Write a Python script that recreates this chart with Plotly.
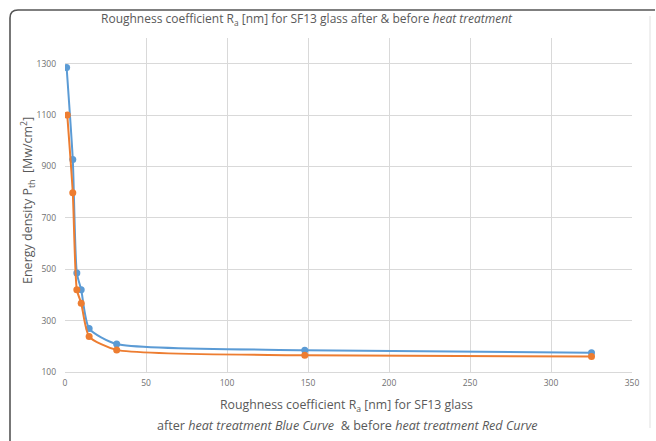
import plotly.graph_objects as go

# Roughness coefficient Ra [nm] (x) and threshold energy density Pth [Mw/cm2] (y)
ra_after = [1, 4.8, 7.3, 10, 14.9, 31.9, 148, 325]
pth_after = [1285, 927, 485, 420, 269, 209, 185, 175]

ra_before = [1.4, 4.8, 7.3, 10, 14.9, 31.9, 148, 325]
pth_before = [1100, 798, 420, 368, 238, 186, 165, 160]

x_ticks = [0, 50, 100, 150, 200, 250, 300, 350]
y_ticks = [100, 300, 500, 700, 900, 1100, 1300]

BLUE = "#5B9BD5"
ORANGE = "#ED7D31"
FONT = "Open Sans"
GRID = "#D9D9D9"
TXT = "#595959"
TICK = "#707070"

W, H = 656, 441
L, R, T, B = 65, 24, 38, 69
pw, ph = W - L - R, H - T - B


def px(xp):
    return (xp - L) / pw


def py(yp):
    return (H - B - yp) / ph


fig = go.Figure()
fig.add_trace(go.Scatter(
    x=ra_after, y=pth_after, mode="lines+markers",
    line=dict(color=BLUE, width=2, shape="spline", smoothing=0.6),
    marker=dict(color=BLUE, size=7), name="after heat treatment",
))
fig.add_trace(go.Scatter(
    x=ra_before, y=pth_before, mode="lines+markers",
    line=dict(color=ORANGE, width=2, shape="spline", smoothing=0.6),
    marker=dict(color=ORANGE, size=7), name="before heat treatment",
))

fig.update_xaxes(
    range=[0, 350], tickvals=x_ticks, showgrid=True, gridcolor=GRID, gridwidth=1,
    zeroline=False, showline=True, linecolor=GRID, linewidth=1,
    tickfont=dict(family=FONT, size=8.5, color=TICK), ticks="", ticklabelstandoff=3,
)
fig.update_yaxes(
    range=[100, 1400], tickvals=y_ticks, showgrid=True, gridcolor=GRID, gridwidth=1,
    zeroline=False, showline=False,
    tickfont=dict(family=FONT, size=8.5, color=TICK), ticks="", ticklabelstandoff=8,
)

annotations = [
    dict(text="Roughness coefficient R<sub>a</sub> [nm] for SF13 glass after &amp; before <i>heat treatment</i>",
         x=px(307), y=py(19), font=dict(family=FONT, size=12, color=TXT)),
    dict(text="Roughness coefficient R<sub>a</sub> [nm] for SF13 glass",
         x=px(346), y=py(405), font=dict(family=FONT, size=12.3, color=TXT)),
    dict(text="after <i>heat treatment Blue Curve</i>  &amp; before <i>heat treatment Red Curve</i>",
         x=px(347), y=py(425), font=dict(family=FONT, size=12.6, color=TXT)),
    dict(text="Energy density P<sub>th</sub>  [Mw/cm<sup>2</sup>]", textangle=-90,
         x=px(28), y=py(201), font=dict(family=FONT, size=12.5, color=TXT)),
]
for a in annotations:
    a.update(xref="paper", yref="paper", showarrow=False, xanchor="center", yanchor="middle")

# outer frame: dark left/top border with a rounded corner, light right edge
frame = (f"M {px(10)} {py(441)} L {px(10)} {py(18)} "
         f"Q {px(10)} {py(10)} {px(18)} {py(10)} L {px(655)} {py(10)}")
shapes = [
    dict(type="path", path=frame, xref="paper", yref="paper",
         line=dict(color="#555555", width=1.6)),
    dict(type="line", xref="paper", yref="paper", x0=px(650), x1=px(650),
         y0=py(16), y1=py(428), line=dict(color="#E6E6E6", width=1.2)),
]

fig.update_layout(
    width=W, height=H, margin=dict(l=L, r=R, t=T, b=B),
    paper_bgcolor="white", plot_bgcolor="white", showlegend=False,
    annotations=annotations, shapes=shapes,
)

fig.write_html("out.html")
